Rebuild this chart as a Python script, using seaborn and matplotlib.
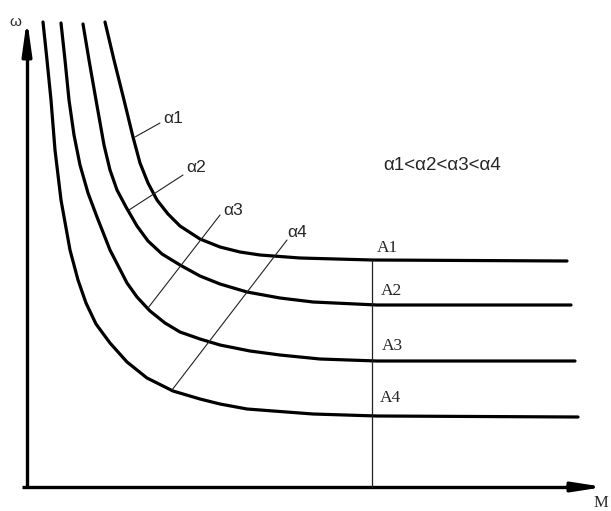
import matplotlib
matplotlib.use("Agg")
import matplotlib.pyplot as plt
import seaborn as sns
import pandas as pd

# --- data (M = torque, ω = speed, arbitrary units) ---
curve_names = ["α1", "α2", "α3", "α4"]
m_a1 = [78, 87, 97, 106, 113, 121, 130, 141, 153, 173, 193, 213, 233, 273, 345, 540]
w_a1 = [465, 427, 387, 350, 324, 304, 287, 273, 261, 248, 240, 235, 232, 229, 227, 226]
m_a2 = [56, 62, 69, 77, 83, 90, 99, 110, 121, 135, 153, 173, 193, 220, 253, 286, 350, 544]
w_a2 = [463, 427, 387, 342, 317, 297, 280, 261, 246, 233, 222, 211, 203, 195, 189, 185, 182, 182]
m_a3 = [34, 38, 42, 47, 53, 61, 70, 83, 100, 110, 123, 138, 153, 173, 193, 223, 253, 293, 350, 548]
w_a3 = [464, 427, 387, 352, 322, 294, 270, 237, 204, 190, 176, 164, 155, 148, 142, 136, 132, 128, 126, 126]
m_a4 = [16, 20, 24, 28, 34, 43, 51, 59, 69, 83, 100, 120, 146, 173, 193, 220, 286, 350, 551]
w_a4 = [465, 427, 387, 337, 287, 237, 207, 184, 163, 144, 125, 109, 96, 88, 83, 78, 73, 71, 70]

# leader lines for α labels: (start on curve) -> (end near label)
leader_m0 = [108, 102, 121, 145]
leader_w0 = [350, 277, 179, 97]
leader_m1 = [133, 156, 193, 260]
leader_w1 = [364, 312, 272, 247]
alpha_label_m = [146, 169, 206, 270]
alpha_label_w = [369, 320, 277, 255]

point_labels = ["A1", "A2", "A3", "A4"]
point_label_m = [360, 364, 365, 363]
point_label_w = [239, 196, 141, 89]
cut_m = 345  # vertical line position
cut_top = 227

relation_text = "α1<α2<α3<α4"

frames = []
for name, m, w in zip(curve_names, [m_a1, m_a2, m_a3, m_a4], [w_a1, w_a2, w_a3, w_a4]):
    frames.append(pd.DataFrame({"M": m, "ω": w, "curve": name}))
df = pd.concat(frames, ignore_index=True)

sns.set_style("white")
plt.rcParams["font.family"] = ["Liberation Sans", "DejaVu Sans"]

fig = plt.figure(figsize=(6.11, 5.11), dpi=100)
ax = fig.add_axes([0, 0, 1, 1])

sns.lineplot(data=df, x="M", y="ω", hue="curve", palette=["black"] * 4,
             estimator=None, sort=False, legend=False, linewidth=2.3, ax=ax)
for line in ax.lines:
    line.set_solid_joinstyle("round")

ax.set_xlim(-27, 584)
ax.set_ylim(-24, 487)
ax.set_axis_off()

# axes with arrows
ax.plot([-5, 560], [0, 0], color="black", lw=2.4, solid_capstyle="butt")
ax.plot([0, 0], [0, 440], color="black", lw=2.4, solid_capstyle="butt")
ax.annotate("", xy=(577, 0), xytext=(540, 0),
            arrowprops=dict(arrowstyle="-|>,head_length=1.8,head_width=0.28",
                            color="black", lw=2.4, shrinkA=0, shrinkB=0))
ax.annotate("", xy=(0, 468), xytext=(0, 430),
            arrowprops=dict(arrowstyle="-|>,head_length=2.0,head_width=0.28",
                            color="black", lw=2.4, shrinkA=0, shrinkB=0))

# vertical cut line
ax.plot([cut_m, cut_m], [0, cut_top], color="#222222", lw=0.9)

# leaders and α labels
for m0, w0, m1, w1 in zip(leader_m0, leader_w0, leader_m1, leader_w1):
    ax.plot([m0, m1], [w0, w1], color="#222222", lw=0.8)
for name, m, w in zip(curve_names, alpha_label_m, alpha_label_w):
    ax.text(m, w, name, fontsize=12.5, ha="center", va="center")

ax.text(415, 322, relation_text, fontsize=13.5, ha="center", va="center")

for name, m, w in zip(point_labels, point_label_m, point_label_w):
    ax.text(m, w, name, fontsize=12.5, ha="center", va="center",
            family=["Liberation Serif", "DejaVu Serif"])

ax.text(-12, 465, "ω", fontsize=11, ha="center", va="center")
ax.text(574, -16, "M", fontsize=12, ha="center", va="center",
        family=["Liberation Serif", "DejaVu Serif"])

fig.savefig("out.png", dpi=100, facecolor="white")
